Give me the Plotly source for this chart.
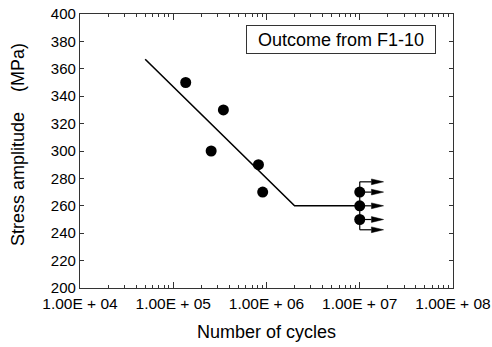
import math
import plotly.graph_objects as go

# ---- data ----
test_cycles = [1.36e5, 2.55e5, 3.45e5, 8.2e5, 9.1e5]
test_stress = [350, 300, 330, 290, 270]
runout_cycles = [1e7, 1e7, 1e7]
runout_stress = [270, 260, 250]
fit_cycles = [5e4, 2e6, 1e7]
fit_stress = [367, 260, 260]
arrow_levels = [277.5, 270, 260, 250, 242.5]
arrow_start = 1e7
arrow_end = 1.8e7
x_tickvals = [1e4, 1e5, 1e6, 1e7, 1e8]
x_ticktext = ["1.00E + 04", "1.00E + 05", "1.00E + 06", "1.00E + 07", "1.00E + 08"]
y_tickvals = list(range(200, 401, 20))
legend_text = "Outcome from F1-10"
x_title = "Number of cycles"
y_title = "Stress amplitude\u00a0\u00a0\u00a0\u00a0(MPa)"

FONT = "Liberation Sans, Arial, sans-serif"
AXC = "#333333"

fig = go.Figure()

# fit line
fig.add_trace(go.Scatter(x=fit_cycles, y=fit_stress, mode="lines",
                         line=dict(color="black", width=1.6), showlegend=False))

# runout vertical bar
fig.add_trace(go.Scatter(x=[arrow_start, arrow_start], y=[min(arrow_levels), max(arrow_levels)],
                         mode="lines", line=dict(color="black", width=1.2), showlegend=False))

# runout arrows (shafts + heads)
head_start = 10 ** (math.log10(arrow_end) - 0.13)
for lv in arrow_levels:
    fig.add_trace(go.Scatter(x=[arrow_start, head_start], y=[lv, lv], mode="lines",
                             line=dict(color="black", width=1.2), showlegend=False))
    fig.add_trace(go.Scatter(x=[head_start, arrow_end, head_start, head_start],
                             y=[lv + 2.1, lv, lv - 2.1, lv + 2.1],
                             mode="lines", fill="toself", fillcolor="black",
                             line=dict(color="black", width=0.5), showlegend=False))

# test points
fig.add_trace(go.Scatter(x=test_cycles, y=test_stress, mode="markers",
                         marker=dict(color="black", size=11), showlegend=False))
fig.add_trace(go.Scatter(x=runout_cycles, y=runout_stress, mode="markers",
                         marker=dict(color="black", size=11), showlegend=False))

minor_vals = [m * 10 ** k for k in range(4, 8) for m in range(2, 10)]

fig.update_layout(
    width=492, height=347,
    margin=dict(l=80, r=39, t=14, b=59, autoexpand=False),
    paper_bgcolor="white", plot_bgcolor="white",
    font=dict(family=FONT, color="black"),
    xaxis=dict(
        type="log", range=[4, 8], automargin=False,
        tickmode="array", tickvals=x_tickvals, ticktext=x_ticktext,
        ticks="inside", ticklen=6, tickwidth=1, tickcolor=AXC,
        showline=True, linecolor=AXC, linewidth=1.2, mirror="ticks",
        showgrid=False, zeroline=False, ticklabeloverflow="allow",
        ticklabelstandoff=1,
        tickfont=dict(size=15.5, family=FONT, color="black"),
        minor=dict(tickmode="array", tickvals=minor_vals, ticks="inside",
                   ticklen=3, tickwidth=1, tickcolor=AXC, showgrid=False),
    ),
    yaxis=dict(
        range=[200, 400], automargin=False,
        tickmode="array", tickvals=y_tickvals,
        ticks="inside", ticklen=4, tickwidth=1, tickcolor=AXC,
        showline=True, linecolor=AXC, linewidth=1.2, mirror="ticks",
        showgrid=False, zeroline=False, ticklabeloverflow="allow",
        tickfont=dict(size=15, family=FONT, color="black"),
    ),
    annotations=[
        dict(text=legend_text, xref="paper", yref="paper", x=0.6997, y=0.907,
             xanchor="center", yanchor="middle", showarrow=False,
             font=dict(size=18, family=FONT, color="black"),
             bordercolor=AXC, borderwidth=1, borderpad=1,
             width=186, height=25, bgcolor="white"),
        dict(text=x_title, xref="paper", yref="paper", x=0.4987, y=-0.16,
             xanchor="center", yanchor="middle", showarrow=False,
             font=dict(size=18, family=FONT, color="black")),
        dict(text=y_title, xref="paper", yref="paper", x=-0.166, y=0.522,
             xanchor="center", yanchor="middle", showarrow=False, textangle=-90,
             font=dict(size=18, family=FONT, color="black")),
    ],
)

fig.write_html("out.html",
               config={"displayModeBar": False},
               post_script="document.body.style.margin='0';document.body.style.padding='0';")
